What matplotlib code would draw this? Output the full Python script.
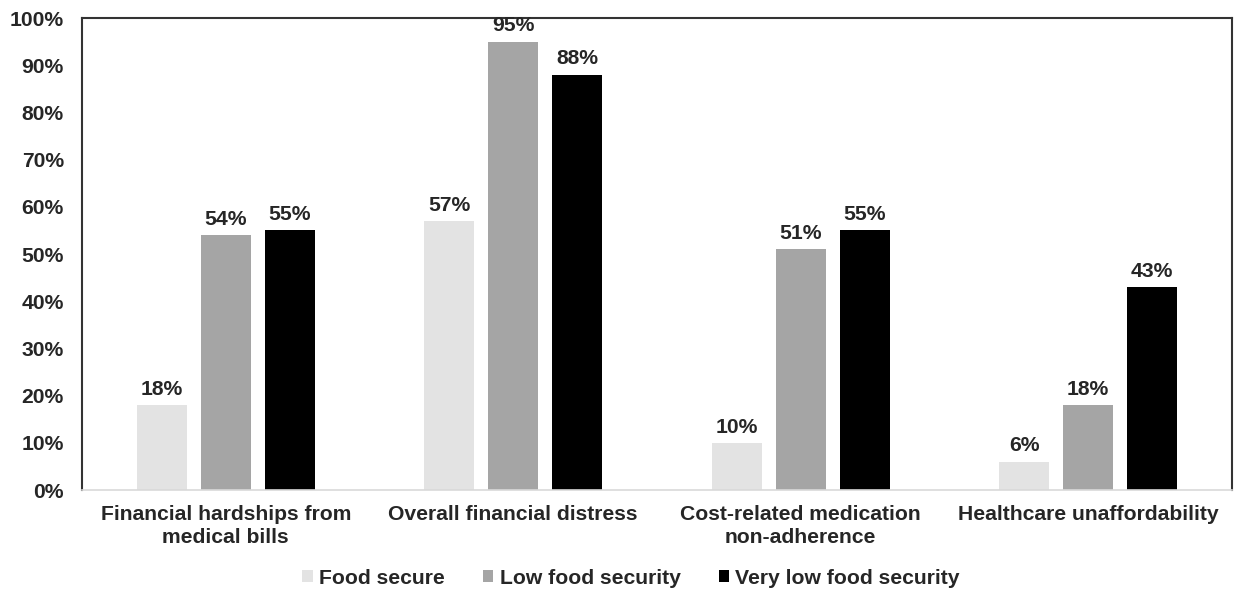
"""
Grouped bar chart: financial hardship measures by food security status
"""

import matplotlib.pyplot as plt
import numpy as np

plt.rcParams['font.family'] = ['Liberation Sans', 'DejaVu Sans']
plt.rcParams['font.weight'] = 'bold'

categories = ['Financial hardships from\nmedical bills', 'Overall financial distress',
              'Cost-related medication\nnon-adherence', 'Healthcare unaffordability']
groups = ['Food secure', 'Low food security', 'Very low food security']
food_secure = [18, 57, 10, 6]
low_security = [54, 95, 51, 18]
very_low_security = [55, 88, 55, 43]

colors = ['#e3e3e3', '#a5a5a5', '#000000']
text_color = '#262626'


def grouped_bars():
    fig = plt.figure(figsize=(12.37, 5.94), dpi=100)
    ax = fig.add_axes([82 / 1237, 1 - 490 / 594, 1150 / 1237, 472 / 594])

    x = np.arange(len(categories))
    step = 0.222
    width = 0.174
    for i, (name, vals) in enumerate(zip(groups, [food_secure, low_security, very_low_security])):
        bars = ax.bar(x + (i - 1) * step, vals, width, color=colors[i], label=name)
        ax.bar_label(bars, labels=[f'{v}%' for v in vals], padding=4.5,
                     fontsize=15.2, fontweight='bold', color=text_color)

    ax.set_xlim(-0.5, 3.5)
    ax.set_ylim(0, 100)
    ax.set_yticks(range(0, 101, 10))
    ax.set_yticklabels([f'{v}%' for v in range(0, 101, 10)])
    ax.set_xticks(x)
    ax.set_xticklabels(categories, linespacing=1.25)
    ax.tick_params(axis='y', length=0, pad=13, labelsize=15.2, labelcolor=text_color)
    ax.tick_params(axis='x', length=0, pad=11, labelsize=15.2, labelcolor=text_color)

    for side in ['top', 'left', 'right']:
        ax.spines[side].set_color('#333333')
        ax.spines[side].set_linewidth(1.5)
    ax.spines['bottom'].set_color('#d9d9d9')
    ax.spines['bottom'].set_linewidth(1.2)

    fig.legend(loc='center', bbox_to_anchor=(631 / 1237, 1 - 578 / 594), ncol=3,
               frameon=False, fontsize=15.2, handlelength=0.5, handleheight=0.5,
               handletextpad=0.3, columnspacing=1.8, labelcolor=text_color)

    plt.savefig('out.png', dpi=100)


if __name__ == "__main__":
    grouped_bars()
